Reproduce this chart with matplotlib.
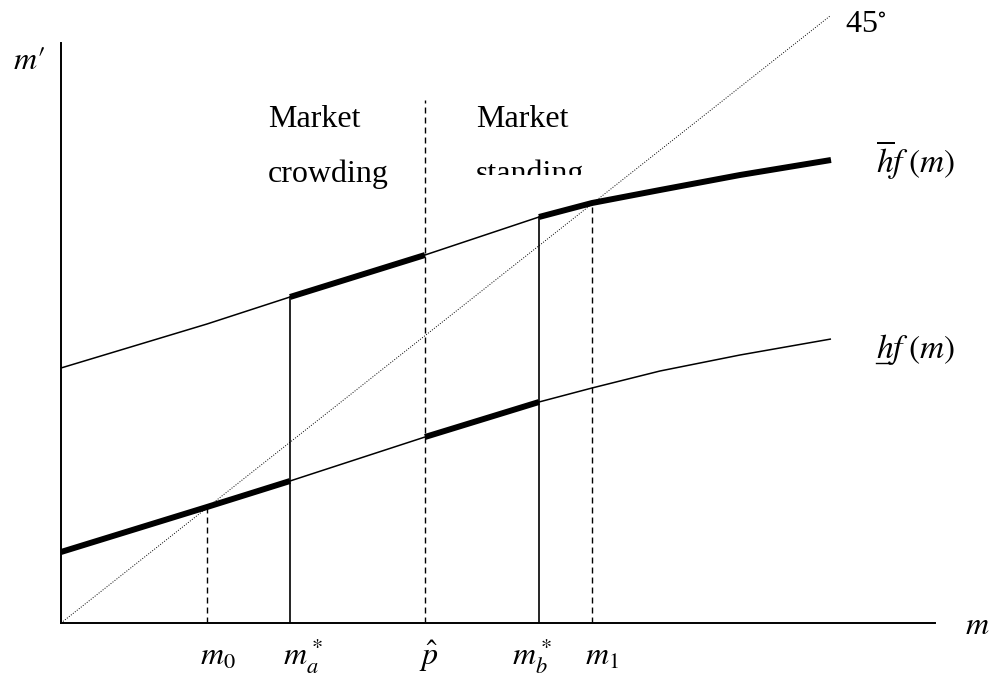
import matplotlib.pyplot as plt
from matplotlib.transforms import Bbox, TransformedBbox

plt.rcParams["mathtext.fontset"] = "stix"
plt.rcParams["font.family"] = ["Liberation Serif", "DejaVu Serif"]

# curve sample points (shared m values)
m_pts = [0, 146, 229, 364, 478, 531, 599, 679, 770]
low_y = [71, 116, 142, 186, 221, 235, 252, 268, 284]     # h f(m)
high_y = [255, 299, 326, 368, 406, 420, 433, 448, 463]   # h-bar f(m)

# 45 degree line
diag_x = [0, 769]
diag_y = [0, 607]

# marked points on the m axis
m0, ma, phat, mb, m1 = 146, 229, 364, 478, 531
tick_pos = [m0, ma, phat, mb, m1]
tick_labels = [r"$m_0$", r"$m_a^*$", r"$\hat{p}$", r"$m_b^*$", r"$m_1$"]
phat_top = 523

W, H = 990, 687
fig = plt.figure(figsize=(W / 100, H / 100), dpi=100)
ax = fig.add_axes([61 / W, (H - 623) / H, 874 / W, 623 / H])
ax.set_xlim(0, 874)
ax.set_ylim(0, 623)
for s in ["top", "right"]:
    ax.spines[s].set_visible(False)
ax.spines["left"].set_bounds(0, 580)
ax.spines["left"].set_linewidth(1.4)
ax.spines["bottom"].set_linewidth(1.4)
ax.set_xticks([])
ax.set_yticks([])
ax.patch.set_visible(False)

thin = dict(color="black", lw=1.1, solid_capstyle="butt")
thick = dict(color="black", lw=4.3, solid_capstyle="butt")
dash = dict(color="black", lw=1.0, linestyle=(0, (4.3, 2.9)))

# 45 degree line
ax.plot(diag_x, diag_y, color="black", lw=0.7, linestyle=(0, (1, 1.6)), clip_on=False)

# curves
ax.plot(m_pts, low_y, **thin)
ax.plot(m_pts, high_y, **thin)

# bold pieces: lower curve up to m_a*, and between p-hat and m_b*
i_ma, i_ph, i_mb = m_pts.index(ma), m_pts.index(phat), m_pts.index(mb)
ax.plot(m_pts[:i_ma + 1], low_y[:i_ma + 1], **thick)
ax.plot(m_pts[i_ph:i_mb + 1], low_y[i_ph:i_mb + 1], **thick)
# upper curve between m_a* and p-hat, and beyond m_b*
ax.plot(m_pts[i_ma:i_ph + 1], high_y[i_ma:i_ph + 1], **thick)
ax.plot(m_pts[i_mb:], high_y[i_mb:], **thick)

# vertical lines
ax.plot([ma, ma], [0, high_y[i_ma]], color="black", lw=1.2)
ax.plot([mb, mb], [0, high_y[i_mb]], color="black", lw=1.2)
ax.plot([m0, m0], [0, low_y[m_pts.index(m0)]], **dash)
ax.plot([m1, m1], [0, high_y[m_pts.index(m1)]], **dash)
ax.plot([phat, phat], [0, phat_top], **dash)

# labels
fs = 23
ax.text(207, 496, "Market", fontsize=fs)
ax.text(207, 441, "crowding", fontsize=fs)
ax.text(415, 496, "Market", fontsize=fs)
t = ax.text(415, 441, "standing", fontsize=fs)
# the second caption is cut off at its bottom in the original
t.set_clip_box(TransformedBbox(Bbox([[0, 448], [874, 700]]), ax.transData))
t.set_clip_on(True)

ax.text(784, 591, r"45$^{\circ}$", fontsize=fs, clip_on=False)
ax.text(815, 450, r"$\overline{h}f\;(m)$", fontsize=24)
ax.text(815, 265, r"$hf\;(m)$", fontsize=24)
ax.text(-48, 554, r"$m\prime$", fontsize=fs)
ax.text(904, -11, r"$m$", fontsize=fs)

offs = [-7, -7, -6, -27, -7]
for x, lab, o in zip(tick_pos, tick_labels, offs):
    ax.text(x + o, -42, lab, fontsize=fs)

# underline below the h of the lower label (mathtext has no \underline)
fig.canvas.draw()
h_txt = ax.text(815, 265, r"$h$", fontsize=24, alpha=0)
bb = h_txt.get_window_extent(renderer=fig.canvas.get_renderer())
(x0, _), (x1, _) = ax.transData.inverted().transform([[bb.x0, bb.y0], [bb.x1, bb.y0]])
ax.plot([x0, x1 - 2], [260, 260], color="black", lw=1.0, clip_on=False)

fig.savefig("out.png", dpi=100)
